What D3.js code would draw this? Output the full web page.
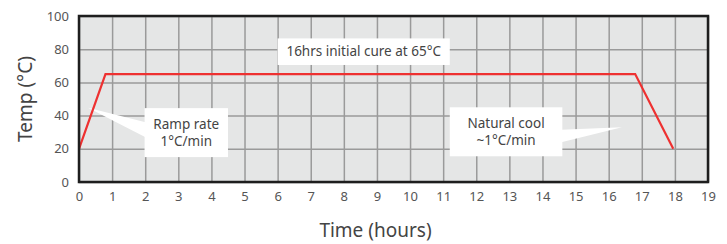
<!DOCTYPE html>
<html>
<head>
<meta charset="utf-8">
<script src="https://cdn.jsdelivr.net/npm/d3@7"></script>
<style>
  body { margin: 0; background: #fff; }
  svg { display: block; font-family: "Noto Sans", sans-serif; }
</style>
</head>
<body>
<svg id="chart" width="727" height="244"></svg>
<script>
// cure profile (hours, degC)
const profileHours = [0, 0.8, 16.8, 17.95];
const profileTemps = [20, 65, 65, 20];
const xTicks = d3.range(0, 20);
const yTicks = [0, 20, 40, 60, 80, 100];

// callouts: box in data units, pointer tip in data units
const notes = [
  { lines: ["16hrs initial cure at 65°C"], x0: 6.0, x1: 11.2, y0: 86.5, y1: 70.5, tip: null },
  { lines: ["Ramp rate", "1°C/min"], x0: 1.98, x1: 4.5, y0: 44.5, y1: 15, tip: [0.27, 44.8], base: [36, 27] },
  { lines: ["Natural cool", "~1°C/min"], x0: 11.2, x1: 14.6, y0: 45, y1: 15.5, tip: [16.4, 33], base: [31.5, 24] }
];

const svg = d3.select('#chart');
const mLeft = 79, mRight = 708, mTop = 16, mBottom = 182;

const x = d3.scaleLinear().domain([0, 19]).range([mLeft, mRight]);
const y = d3.scaleLinear().domain([0, 100]).range([mBottom, mTop]);

svg.append('rect')
  .attr('x', mLeft).attr('y', mTop)
  .attr('width', mRight - mLeft).attr('height', mBottom - mTop)
  .attr('fill', '#e5e6e6');

// grid
svg.append('g')
  .attr('transform', `translate(0,${mBottom})`)
  .call(d3.axisBottom(x).tickValues(xTicks).tickSize(-(mBottom - mTop)).tickFormat(''))
  .call(g => g.select('.domain').remove())
  .call(g => g.selectAll('line').attr('stroke', '#9a9a9a').attr('stroke-width', 1.5));

svg.append('g')
  .attr('transform', `translate(${mLeft},0)`)
  .call(d3.axisLeft(y).tickValues(yTicks).tickSize(-(mRight - mLeft)).tickFormat(''))
  .call(g => g.select('.domain').remove())
  .call(g => g.selectAll('line').attr('stroke', '#9a9a9a').attr('stroke-width', 1.5));

// callouts
notes.forEach(n => {
  const g = svg.append('g');
  if (n.tip) {
    const bx = n.tip[0] < n.x0 ? x(n.x0) + 1 : x(n.x1) - 1;
    g.append('path')
      .attr('d', `M${x(n.tip[0])},${y(n.tip[1])}L${bx},${y(n.base[0])}L${bx},${y(n.base[1])}Z`)
      .attr('fill', '#fff');
  }
  g.append('rect')
    .attr('x', x(n.x0)).attr('y', y(n.y0))
    .attr('width', x(n.x1) - x(n.x0)).attr('height', y(n.y1) - y(n.y0))
    .attr('fill', '#fff');
  const cx = (x(n.x0) + x(n.x1)) / 2;
  const cy = (y(n.y0) + y(n.y1)) / 2;
  const lh = 17;
  n.lines.forEach((t, i) => {
    g.append('text')
      .attr('x', cx)
      .attr('y', cy + (i - (n.lines.length - 1) / 2) * lh)
      .attr('dy', '0.35em')
      .attr('text-anchor', 'middle')
      .attr('font-size', 13.5)
      .attr('fill', '#444')
      .text(t);
  });
});

// profile line
svg.append('path')
  .datum(profileHours.map((h, i) => [h, profileTemps[i]]))
  .attr('d', d3.line().x(d => x(d[0])).y(d => y(d[1])))
  .attr('fill', 'none')
  .attr('stroke', '#ee3131')
  .attr('stroke-width', 2.2);

// frame
svg.append('rect')
  .attr('x', mLeft).attr('y', mTop)
  .attr('width', mRight - mLeft).attr('height', mBottom - mTop)
  .attr('fill', 'none')
  .attr('stroke', '#1e1e1e')
  .attr('stroke-width', 2.5);

// tick labels
svg.append('g')
  .attr('transform', `translate(0,${mBottom})`)
  .call(d3.axisBottom(x).tickValues(xTicks).tickSize(0).tickPadding(10))
  .call(g => g.select('.domain').remove())
  .call(g => g.selectAll('text').attr('font-size', 13).attr('fill', '#555').attr('font-family', '"Noto Sans", sans-serif'));

svg.append('g')
  .attr('transform', `translate(${mLeft},0)`)
  .call(d3.axisLeft(y).tickValues(yTicks).tickSize(0).tickPadding(10))
  .call(g => g.select('.domain').remove())
  .call(g => g.selectAll('text').attr('font-size', 13).attr('fill', '#555').attr('font-family', '"Noto Sans", sans-serif'));

// axis titles
svg.append('text')
  .attr('transform', `translate(32,${(mTop + mBottom) / 2}) rotate(-90)`)
  .attr('text-anchor', 'middle')
  .attr('font-size', 19)
  .attr('fill', '#444')
  .text('Temp (°C)');

svg.append('text')
  .attr('x', (mLeft + mRight) / 2 - 18)
  .attr('y', 237)
  .attr('text-anchor', 'middle')
  .attr('font-size', 19)
  .attr('fill', '#444')
  .text('Time (hours)');
</script>
</body>
</html>
